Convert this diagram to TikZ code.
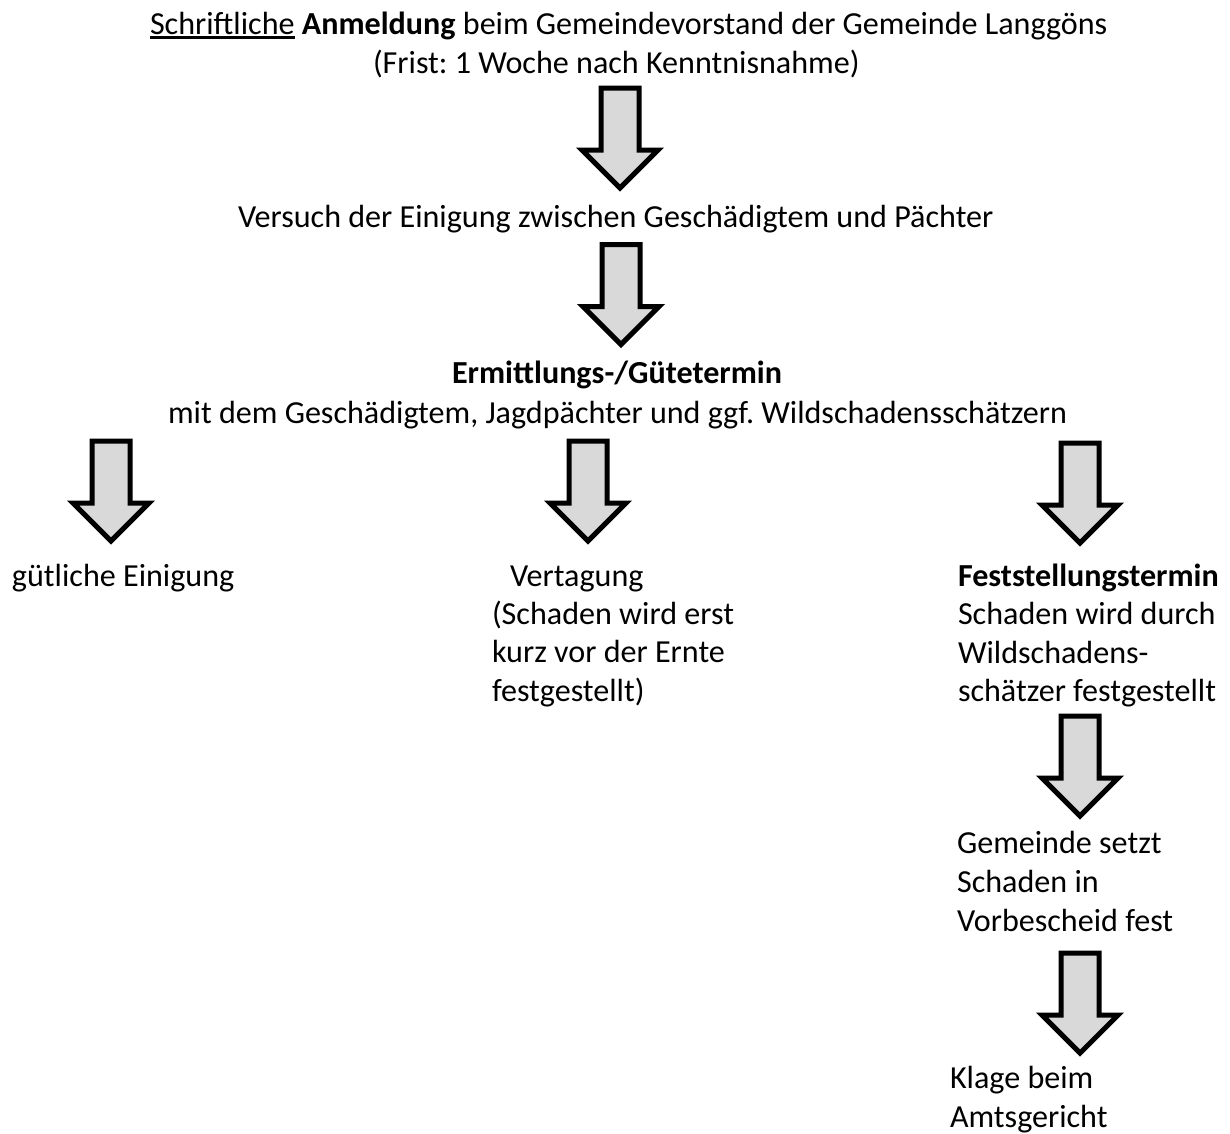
\documentclass[tikz,border=0pt]{standalone}
\usepackage{fontspec}
\setmainfont{Carlito}
\frenchspacing
\definecolor{arrowgray}{HTML}{D9D9D9}
\newcommand\myul[1]{\setbox0\hbox{#1}\rlap{\rule[-5pt]{\wd0}{2.6pt}}\box0\relax}
\tikzset{
  x=1pt, y=-1pt,
  txt/.style={anchor=base west, inner sep=0pt, outer sep=0pt,
    font=\fontsize{32.1}{38.5}\selectfont\frenchspacing},
  barrow/.style={draw=black, fill=arrowgray, line width=5pt, line join=miter}
}
% block arrow: name, x centre, y top (centre line)
\newcommand\blockarrow[3]{%
  \draw[barrow] (#2-19,#3) -- ++(38,0) -- ++(0,62) -- ++(19,0)
    -- (#2,#3+100) -- (#2-38,#3+62) -- ++(19,0) -- cycle;
  \coordinate (#1) at (#2,#3);}
\begin{document}
\begin{tikzpicture}
\fill[white] (0,0) rectangle (1230,1133);
\useasboundingbox (0,0) rectangle (1230,1133);

% texts
\node[txt] (t1a) at (150,34) {\myul{Schriftliche} \textbf{Anmeldung} beim Gemeindevorstand der Gemeinde Langgöns};
\node[txt] (t1b) at (373,73) {(Frist: 1 Woche nach Kenntnisnahme)};
\node[txt] (t2) at (238,227) {Versuch der Einigung zwischen Geschädigtem und Pächter};
\node[txt] (t3a) at (452,383) {\textbf{Ermittlungs-/Gütetermin}};
\node[txt] (t3b) at (168,423) {mit dem Geschädigtem, Jagdpächter und ggf. Wildschadensschätzern};
\node[txt] (t4) at (12,586) {gütliche Einigung};
\node[txt] (t5a) at (510,586) {Vertagung};
\node[txt] (t5b) at (492,624) {(Schaden wird erst};
\node[txt] (t5c) at (492,662) {kurz vor der Ernte};
\node[txt] (t5d) at (492,701) {festgestellt)};
\node[txt] (t6a) at (958,586) {\textbf{Feststellungstermin}};
\node[txt] (t6b) at (958,624) {Schaden wird durch};
\node[txt] (t6c) at (958,663) {Wildschadens-};
\node[txt] (t6d) at (958,701) {schätzer festgestellt};
\node[txt] (t7a) at (957,853) {Gemeinde setzt};
\node[txt] (t7b) at (957,892) {Schaden in};
\node[txt] (t7c) at (957,931) {Vorbescheid fest};
\node[txt] (t8a) at (950,1088) {Klage beim};
\node[txt] (t8b) at (950,1127) {Amtsgericht};

% arrows
\blockarrow{a1}{620}{88}
\blockarrow{a2}{621}{244.5}
\blockarrow{a3}{111}{441}
\blockarrow{a4}{588}{441}
\blockarrow{a5}{1080}{443}
\blockarrow{a6}{1080}{716}
\blockarrow{a7}{1080}{953}
\end{tikzpicture}
\end{document}
